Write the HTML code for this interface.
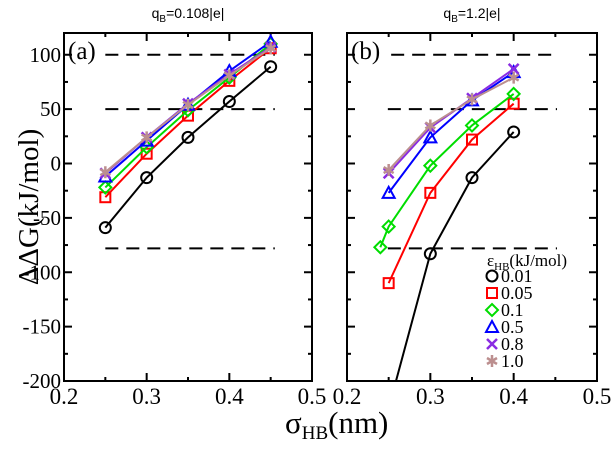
<!DOCTYPE html>
<html><head><meta charset="utf-8"><style>
body{margin:0;background:#fff}
</style></head><body>
<svg id="c" width="612" height="444" xmlns="http://www.w3.org/2000/svg"></svg>
<script>
const xTicks=[0.2,0.3,0.4,0.5];
const xTickLabels=["0.2","0.3","0.4","0.5"];
const yTicks=[-200,-150,-100,-50,0,50,100];
const yTickLabels=["-200","-150","-100","-50","0","50","100"];
const seriesNames=["0.01","0.05","0.1","0.5","0.8","1.0"];
const colors=["#000000","#ff0000","#00dd00","#0000ff","#8a2be2","#bc8f8f"];
const markers=["circle","square","diamond","triangle","x","star"];
const xA=[0.25,0.3,0.35,0.4,0.45];
const a001=[-59,-13,24,57,89];
const a005=[-31,9,44,76,106];
const a01=[-22,15,49,79,110];
const a05=[-12,21,54,85,112];
const a08=[-9,24,55,82,107];
const a10=[-8,24,54,81,106];
const xB=[0.25,0.3,0.35,0.4];
const xB01=[0.24,0.25,0.3,0.35,0.4];
const b001=[-225,-83,-13,29];
const b005=[-110,-27,22,55];
const b01=[-77,-58,-2,35,64];
const b05=[-27,24,58,84];
const b08=[-9,33,60,87];
const b10=[-6,35,59,79];
const dashLevels=[100,50,-78];
const dashA=[[0.25,0.455],[0.25,0.455],[0.25,0.455]];
const dashB=[[0.253,0.452],[0.249,0.452],[0.249,0.452]];

const SERIF="font-family:'Liberation Serif',serif";
const SANS="font-family:'Liberation Sans',sans-serif";
const svg=document.getElementById('c');
const NS="http://www.w3.org/2000/svg";
function mk(tag,at,parent){const e=document.createElementNS(NS,tag);for(const k in at)e.setAttribute(k,at[k]);(parent||svg).appendChild(e);return e;}
const Y0=-200,Y1=120,TOP=33,BOT=381;
function marker(type,x,y,c,p){
  const g=mk('g',{},p);const st={fill:'none',stroke:c,'stroke-width':2};
  if(type==='circle')mk('circle',Object.assign({cx:x,cy:y,r:5.5},st),g);
  else if(type==='square')mk('rect',Object.assign({x:x-5,y:y-5,width:10,height:10},st),g);
  else if(type==='diamond')mk('polygon',Object.assign({points:`${x},${y-6} ${x+6},${y} ${x},${y+6} ${x-6},${y}`},st),g);
  else if(type==='triangle')mk('polygon',Object.assign({points:`${x},${y-6} ${x+6},${y+5} ${x-6},${y+5}`},st),g);
  else if(type==='x'){mk('path',Object.assign({},st,{d:`M${x-5},${y-5}L${x+5},${y+5}M${x-5},${y+5}L${x+5},${y-5}`,'stroke-width':2.5}),g);}
  else {mk('path',Object.assign({},st,{d:`M${x},${y-6}V${y+6}M${x-5},${y-3}L${x+5},${y+3}M${x-5},${y+3}L${x+5},${y-3}`,'stroke-width':2.5}),g);}
  return g;
}
function panel(left,right,id,title,label,series,dashes,showY){
  const g=mk('g',{});
  
  
  const sx=v=>left+(v-0.2)/0.3*(right-left);
  const sy=v=>BOT-(v-Y0)/(Y1-Y0)*(BOT-TOP);
  const cp=mk('clipPath',{id:'cp'+id},g);
  mk('rect',{x:left,y:TOP,width:right-left,height:BOT-TOP},cp);
  for(let k=0;k<=6;k++){
    const v=0.2+k*0.05;const major=k%2===0;const L=major?8:4;const x=sx(v);
    mk('line',{x1:x,y1:BOT,x2:x,y2:BOT-L,stroke:'#000','stroke-width':2},g);
    mk('line',{x1:x,y1:TOP,x2:x,y2:TOP+L,stroke:'#000','stroke-width':2},g);
  }
  for(let v=-200;v<=120;v+=25){
    const major=v%50===0;const L=major?8:4;const y=sy(v);
    mk('line',{x1:left,y1:y,x2:left+L,y2:y,stroke:'#000','stroke-width':2},g);
    mk('line',{x1:right,y1:y,x2:right-L,y2:y,stroke:'#000','stroke-width':2},g);
  }
  xTicks.forEach((v,i)=>{const t=mk('text',{x:sx(v),y:404,'font-size':23,'text-anchor':'middle',style:SERIF},g);t.textContent=xTickLabels[i];
    });
  if(showY)yTicks.forEach((v,i)=>{const t=mk('text',{x:left-3,y:sy(v)+7,'font-size':21,'text-anchor':'end',style:SERIF},g);t.textContent=yTickLabels[i];
    });
  dashLevels.forEach((v,i)=>{const l=mk('line',{x1:sx(dashes[i][0]),x2:sx(dashes[i][1]),y1:sy(v),y2:sy(v),stroke:'#000','stroke-width':2,'stroke-dasharray':'13,8'},g);
    });
  const sg=mk('g',{'clip-path':'url(#cp'+id+')'},g);
  series.forEach((s,i)=>{
    const pts=s.x.map((x,j)=>sx(x)+','+sy(s.y[j])).join(' ');
    const pl=mk('polyline',{points:pts,fill:'none',stroke:colors[i],'stroke-width':2},sg);
    
    s.x.forEach((x,j)=>{const m=marker(markers[i],sx(x),sy(s.y[j]),colors[i],sg);
      });
  });
  const fr=mk('rect',{x:left,y:TOP,width:right-left,height:BOT-TOP,fill:'none',stroke:'#000','stroke-width':2},g);
  
  const lb=mk('text',{x:left+4,y:TOP+26,'font-size':25,style:SERIF},g);lb.textContent=label;
  
  const tt=mk('text',{x:(left+right)/2,y:18,'font-size':14,'text-anchor':'middle',style:SANS},g);
  tt.innerHTML='q<tspan font-size="10" dy="4">B</tspan><tspan dy="-4">='+title+'</tspan>';
  
}
panel(64,312,'a','0.108|e|','(a)',[
 {x:xA,y:a001},{x:xA,y:a005},{x:xA,y:a01},{x:xA,y:a05},{x:xA,y:a08},{x:xA,y:a10}],dashA,true);
panel(347,597,'b','1.2|e|','(b)',[
 {x:xB,y:b001},{x:xB,y:b005},{x:xB01,y:b01},{x:xB,y:b05},{x:xB,y:b08},{x:xB,y:b10}],dashB,false);
const lg=mk('g',{});


const lt=mk('text',{x:487,y:266,'font-size':17,style:SERIF},lg);
lt.innerHTML='ε<tspan font-size="11" dy="4">HB</tspan><tspan dy="-4">(kJ/mol)</tspan>';
seriesNames.forEach((n,i)=>{const y=276+i*17;
  const e=mk('g',{},lg);
  
  
  marker(markers[i],492,y,colors[i],e);
  const t=mk('text',{x:501,y:y+6,'font-size':18,style:SERIF},e);t.textContent=n;});
const yt=mk('text',{transform:'translate(38,207) rotate(-90)','font-size':29,'text-anchor':'middle',style:SERIF});
yt.textContent='ΔΔG(kJ/mol)';

const xt=mk('text',{x:285,y:433,'font-size':31,style:SERIF});
xt.innerHTML='σ<tspan font-size="19" dy="6">HB</tspan><tspan dy="-6">(nm)</tspan>';

</script>
</body></html>
